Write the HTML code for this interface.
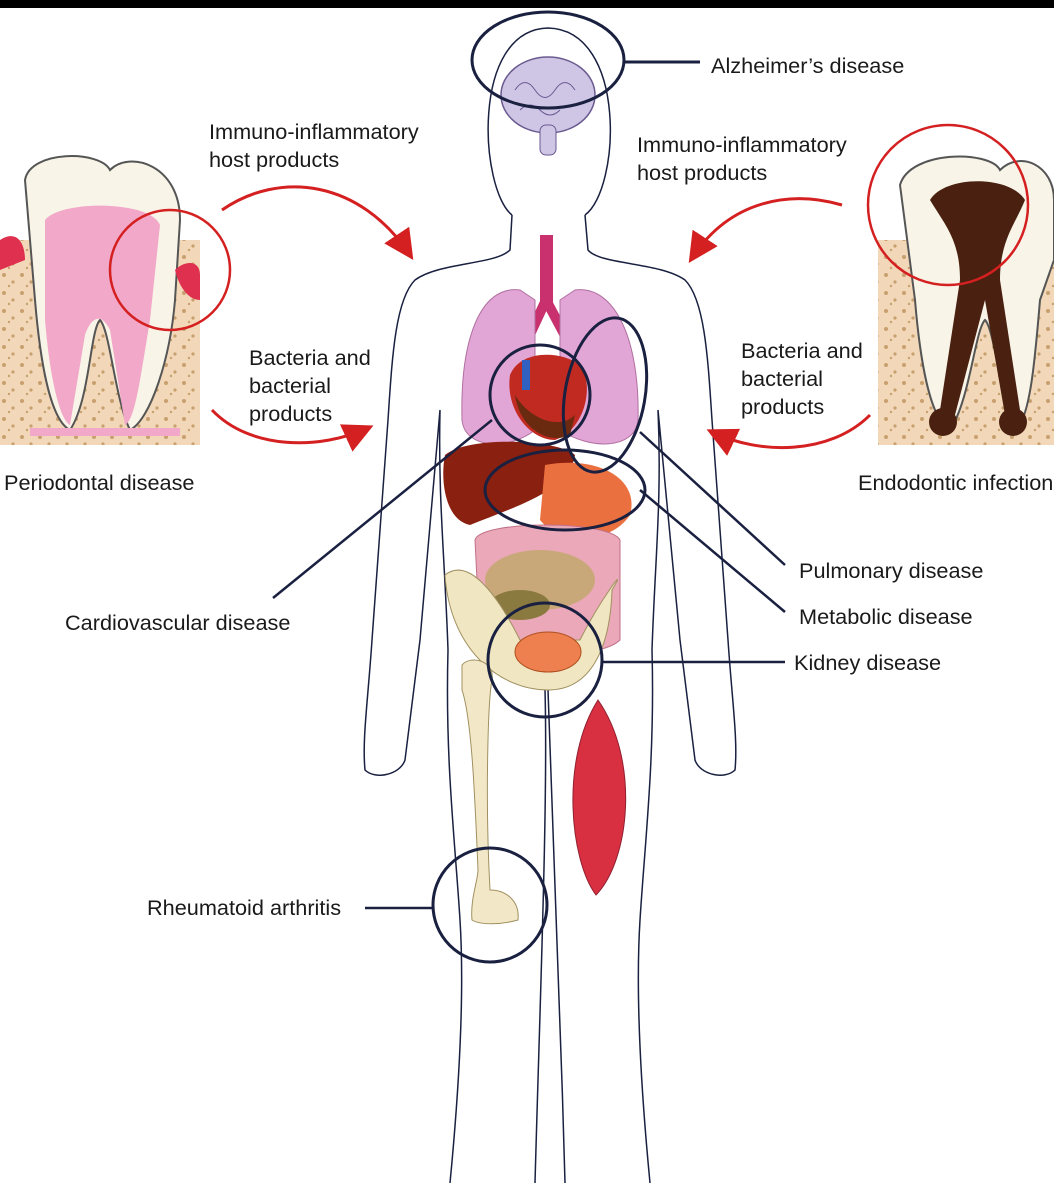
<!DOCTYPE html>
<html><head><meta charset="utf-8"><style>
html,body{margin:0;padding:0;background:#fff}
svg{display:block}
text{font-family:"Liberation Sans",sans-serif;font-size:21.7px;fill:#1a1a1a}
</style></head><body>
<svg width="1054" height="1183" viewBox="0 0 1054 1183" xmlns="http://www.w3.org/2000/svg">
<defs>
<marker id="ar" markerWidth="10" markerHeight="10" refX="8" refY="5" orient="auto"><path d="M0,0 L10,5 L0,10 Z" fill="#d42020"/></marker>
<pattern id="dots" width="18" height="18" patternUnits="userSpaceOnUse"><rect width="18" height="18" fill="#f2d8b8"/><circle cx="4" cy="5" r="2" fill="#c8a070"/><circle cx="13" cy="12" r="1.6" fill="#c8a070"/><circle cx="9" cy="16" r="1.2" fill="#c8a070"/></pattern>
</defs>
<rect x="0" y="0" width="1054" height="8" fill="#000"/>
<!-- body outline -->
<g fill="none" stroke="#1a2040" stroke-width="1.5">
<path d="M585,215 C620,190 628,30 548,28 C470,30 480,190 512,215"/>
<path d="M512,215 L510,250 C495,265 440,262 415,280 C395,300 392,360 388,420 L372,640 C368,700 362,740 365,770 C375,780 400,775 405,760 L420,640 L440,410 C438,500 445,560 448,650 C445,760 455,840 460,920 C465,1000 458,1100 450,1183"/>
<path d="M585,215 L588,250 C600,265 660,262 685,280 C705,300 708,360 712,420 L728,640 C732,700 738,740 735,770 C725,780 700,775 695,760 L680,640 L658,410 C662,500 655,560 652,650 C655,760 645,840 640,920 C635,1000 642,1100 650,1183"/>
<path d="M545,690 C548,800 540,1000 535,1183"/>
<path d="M548,690 C552,800 560,1000 565,1183"/>
</g>
<!-- brain -->
<ellipse cx="548" cy="95" rx="47" ry="38" fill="#cfc6e6" stroke="#6a5a90" stroke-width="1.5"/>
<rect x="540" y="125" width="16" height="30" rx="6" fill="#cfc6e6" stroke="#6a5a90"/>
<path d="M515,90 q10,-15 20,0 q10,15 20,0 q10,-15 20,0 M520,110 q10,-10 20,0 q10,10 20,0" fill="none" stroke="#6a5a90"/>
<!-- trachea -->
<rect x="540" y="235" width="13" height="75" fill="#c8306e"/>
<path d="M546,300 L525,345 M546,300 L570,345" stroke="#c8306e" stroke-width="10"/>
<!-- lungs -->
<path d="M520,290 C480,285 460,340 462,420 C465,450 510,450 535,430 L535,300 Z" fill="#e2a6d6" stroke="#b070a0"/>
<path d="M575,290 C615,285 640,340 638,420 C635,450 590,450 560,430 L560,300 Z" fill="#e2a6d6" stroke="#b070a0"/>
<!-- heart -->
<path d="M510,375 C520,350 560,350 580,365 C595,385 585,430 555,440 C530,440 505,410 510,375 Z" fill="#c02a20"/>
<path d="M515,395 C530,420 560,430 575,415 L570,435 C550,445 520,430 515,395 Z" fill="#6a2a10"/>
<rect x="522" y="360" width="8" height="30" fill="#3060c0"/>
<!-- liver, stomach -->
<path d="M445,455 C470,435 560,440 575,455 C570,490 520,505 470,525 C445,520 440,480 445,455 Z" fill="#8a2010"/>
<path d="M545,465 C600,455 640,480 630,515 C610,545 560,545 540,520 Z" fill="#ea7040"/>
<!-- intestines -->
<path d="M475,540 C480,520 610,520 620,540 L620,640 C600,660 500,660 480,640 Z" fill="#eaa8b8" stroke="#c07088"/>
<ellipse cx="540" cy="580" rx="55" ry="30" fill="#c8a878"/>
<ellipse cx="520" cy="605" rx="30" ry="15" fill="#8a7a40"/>
<!-- pelvis -->
<path d="M445,575 C470,555 500,600 520,640 L580,640 C600,600 630,560 612,590 C610,650 590,690 548,690 C500,690 450,650 445,575 Z" fill="#f0e6c2" stroke="#a09060"/>
<ellipse cx="548" cy="652" rx="33" ry="20" fill="#ee8050" stroke="#b05020"/>
<!-- femur -->
<path d="M462,665 C470,655 495,660 492,680 C488,700 485,800 490,890 C505,890 520,900 518,920 C500,925 480,925 472,920 C470,900 478,880 478,870 C475,800 472,720 462,690 Z" fill="#f2e8c8" stroke="#a09060"/>
<!-- muscle -->
<path d="M598,700 C640,760 630,860 596,895 C570,860 560,760 598,700 Z" fill="#d83040" stroke="#902030"/>
<!-- circles -->
<g fill="none" stroke="#1a2040" stroke-width="3">
<ellipse cx="548" cy="60" rx="76" ry="48"/>
<line x1="624" y1="62" x2="700" y2="62"/>
<circle cx="540" cy="395" r="50"/>
<ellipse cx="605" cy="395" rx="40" ry="78" transform="rotate(10 605 395)"/>
<ellipse cx="565" cy="490" rx="80" ry="40"/>
<circle cx="545" cy="660" r="57"/>
<circle cx="490" cy="905" r="57"/>
</g>
<g stroke="#1a2040" stroke-width="2.5">
<line x1="273" y1="598" x2="492" y2="420"/>
<line x1="785" y1="565" x2="640" y2="432"/>
<line x1="785" y1="612" x2="640" y2="490"/>
<line x1="603" y1="662" x2="785" y2="662"/>
<line x1="365" y1="908" x2="433" y2="908"/>
</g>
<!-- left tooth -->
<rect x="0" y="240" width="200" height="205" fill="url(#dots)"/>
<path d="M25,180 C30,150 100,150 110,170 C130,150 180,165 180,220 L175,300 C170,360 150,420 130,430 C115,400 110,330 100,320 C90,330 90,400 70,430 C50,420 40,360 35,300 Z" fill="#f8f4e8" stroke="#555" stroke-width="2"/>
<path d="M45,220 C60,200 150,200 160,225 L150,320 C140,380 135,420 125,425 L110,330 C100,310 90,320 85,335 L70,425 C60,420 50,380 45,320 Z" fill="#f2a8c8"/>
<rect x="30" y="428" width="150" height="8" fill="#f2a8c8"/>
<path d="M0,240 C15,230 25,240 25,260 L0,270 Z M175,270 C185,260 200,260 200,275 L200,300 C190,300 180,290 175,270 Z" fill="#e03050"/>
<circle cx="170" cy="270" r="60" fill="none" stroke="#d42020" stroke-width="2.5"/>
<!-- right tooth -->
<rect x="878" y="240" width="176" height="205" fill="url(#dots)"/>
<path d="M900,185 C910,150 990,150 1000,170 C1020,150 1054,165 1054,200 L1054,260 L1040,300 C1035,360 1030,420 1015,430 C1000,400 995,330 985,320 C975,330 970,400 950,430 C930,420 920,360 915,300 Z" fill="#f8f4e8" stroke="#555" stroke-width="2"/>
<path d="M930,200 C945,175 1010,175 1025,200 C1015,225 1000,240 1000,280 L1020,410 L1005,415 L985,300 L955,415 L940,410 L960,280 C960,240 945,225 930,200 Z" fill="#4a2010"/>
<circle cx="943" cy="422" r="14" fill="#4a2010"/>
<circle cx="1013" cy="422" r="14" fill="#4a2010"/>
<circle cx="948" cy="205" r="80" fill="none" stroke="#d42020" stroke-width="2.5"/>
<!-- arrows -->
<g fill="none" stroke="#d42020" stroke-width="3" marker-end="url(#ar)">
<path d="M222,210 C280,170 360,180 410,255"/>
<path d="M212,410 C250,450 320,450 368,428"/>
<path d="M842,205 C790,190 730,200 692,258"/>
<path d="M870,415 C830,455 760,455 712,432"/>
</g>
<!-- text -->
<text x="711" y="73">Alzheimer’s disease</text>
<text x="209" y="139">Immuno-inflammatory</text>
<text x="209" y="167">host products</text>
<text x="637" y="152">Immuno-inflammatory</text>
<text x="637" y="180">host products</text>
<text x="249" y="365">Bacteria and</text>
<text x="249" y="393">bacterial</text>
<text x="249" y="421">products</text>
<text x="741" y="358">Bacteria and</text>
<text x="741" y="386">bacterial</text>
<text x="741" y="414">products</text>
<text x="4" y="490">Periodontal disease</text>
<text x="858" y="490">Endodontic infection</text>
<text x="799" y="578">Pulmonary disease</text>
<text x="799" y="624">Metabolic disease</text>
<text x="794" y="670">Kidney disease</text>
<text x="65" y="630">Cardiovascular disease</text>
<text x="147" y="915">Rheumatoid arthritis</text>
</svg>
</body></html>
